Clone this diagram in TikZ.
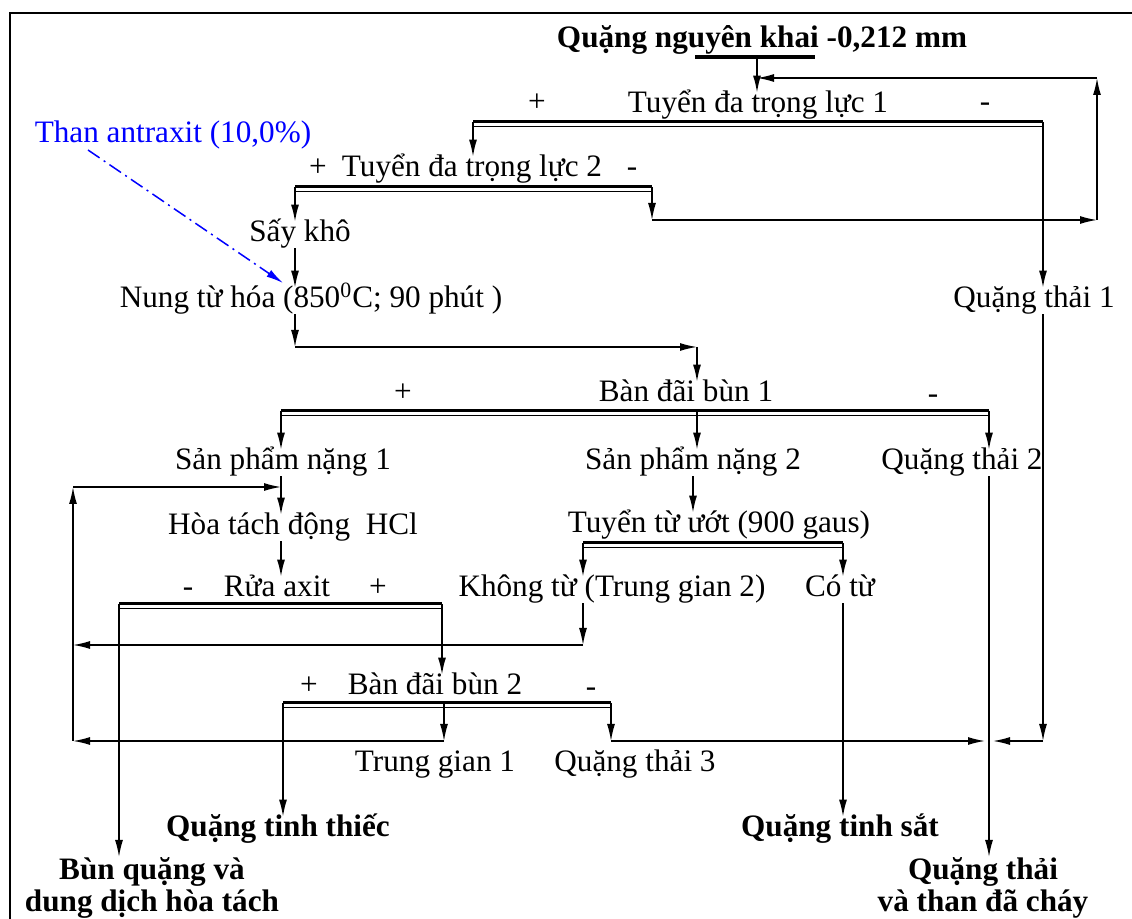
\documentclass[tikz,border=0pt]{standalone}
\usepackage{fontspec}
\setmainfont{Liberation Serif}
\usetikzlibrary{arrows.meta, positioning}

\tikzset{
    lbl/.style={inner sep=0pt, text height=10pt, text depth=3pt},
    bold/.style={font=\fontsize{15.6}{16}\selectfont\bfseries},
    res/.style={bold, inner sep=0pt, align=center, anchor=north},
    flow/.style={->, line width=0.75pt},
    barthick/.style={line width=1.5pt},
    barthin/.style={line width=0.5pt},
}

\newcommand{\splitbar}[2]{%
    \draw[barthick] (#1) -- (#2);
    \draw[barthin] ([yshift=-2.5pt]#1) -- ([yshift=-2.5pt]#2);
}

\begin{document}
\begin{tikzpicture}[x=0.5pt, y=-0.5pt, >={Latex[length=8.5pt, width=4pt]}, font=\fontsize{15.6}{16}\selectfont]

\useasboundingbox (0,0) rectangle (1132,919);
\draw[line width=1pt] (10,919) -- (10,13) -- (1132,13);

\begin{scope}[every node/.style={lbl}]
    \node[bold] (feed) at (762,41) {Quặng nguyên khai -0,212 mm};

    \node (td1) at (758,106) {Tuyển đa trọng lực 1};
    \node (td1p) at (537,105) {+};
    \node (td1m) at (985,105) {-};

    \node (td2) at (472,170) {Tuyển đa trọng lực 2};
    \node (td2p) at (318,170) {+};
    \node (td2m) at (632,170) {-};

    \node[text=blue] (than) at (173,136) {Than antraxit (10,0\%)};
    \node (say) at (300,235) {Sấy khô};
    \node (nung) at (311,301) {Nung từ hóa (850\textsuperscript{0}C; 90 phút )};
    \node (qt1) at (1034,301) {Quặng thải 1};

    \node (bd1) at (686,395) {Bàn đãi bùn 1};
    \node (bd1p) at (403,395) {+};
    \node (bd1m) at (933,397) {-};

    \node (sp1) at (283,463) {Sản phẩm nặng 1};
    \node (sp2) at (693,463) {Sản phẩm nặng 2};
    \node (qt2) at (962,463) {Quặng thải 2};

    \node (hoa) at (293,528) {Hòa tách động \ HCl};
    \node (ttu) at (719,526) {Tuyển từ ướt (900 gaus)};

    \node (rua) at (277,590) {Rửa axit};
    \node (ruam) at (188,590) {-};
    \node (ruap) at (378,590) {+};
    \node (khong) at (612,590) {Không từ (Trung gian 2)};
    \node (cotu) at (840,590) {Có từ};

    \node (bd2) at (435,688) {Bàn đãi bùn 2};
    \node (bd2p) at (309,688) {+};
    \node (bd2m) at (591,690) {-};

    \node (tg1) at (435,765) {Trung gian 1};
    \node (qt3) at (635,765) {Quặng thải 3};

    \node[bold] (thiec) at (278,830) {Quặng tinh thiếc};
    \node[bold] (sat) at (840,830) {Quặng tinh sắt};
\end{scope}

\node[res] (bun) at (152,857) {Bùn quặng và\\dung dịch hòa tách};
\node[res] (qtc) at (983,857) {Quặng thải\\và than đã cháy};

% split points
\coordinate (fbl) at (695,57);
\coordinate (fbr) at (815,57);
\coordinate (fb) at (757,57);
\coordinate (b1l) at (473,122);
\coordinate (b1r) at (1043,122);
\coordinate (b2l) at (295,187);
\coordinate (b2r) at (652,187);
\coordinate (b3l) at (281,411);
\coordinate (b3m) at (697,411);
\coordinate (b3r) at (989,411);
\coordinate (b4l) at (583,543);
\coordinate (b4r) at (843,543);
\coordinate (b5l) at (119,604);
\coordinate (b5r) at (442,604);
\coordinate (b6l) at (283,703);
\coordinate (b6m) at (444,703);
\coordinate (b6r) at (611,703);

% corners
\coordinate (r1) at (652,220);
\coordinate (r2) at (1097,220);
\coordinate (r3) at (1097,78);
\coordinate (n1) at (295,347);
\coordinate (n2) at (697,347);
\coordinate (q1) at (1043,741);
\coordinate (h1) at (73,741);
\coordinate (h2) at (73,487);
\coordinate (k1) at (583,645);
\coordinate (k2) at (73,645);
\coordinate (t1) at (444,741);
\coordinate (t3) at (611,741);
\coordinate (ts) at (88,150);
\coordinate (ct) at (283,283);

\draw[line width=2pt] (fbl) -- (fbr);
\splitbar{b1l}{b1r}
\splitbar{b2l}{b2r}
\splitbar{b3l}{b3r}
\splitbar{b4l}{b4r}
\splitbar{b5l}{b5r}
\splitbar{b6l}{b6r}

\draw[flow] (fb) -- (fb |- td1.north);
\draw[flow] (b1l) -- (b1l |- td2.north);
\draw[flow] (b1r) -- (b1r |- qt1.north);
\draw[flow] (b2l) -- (b2l |- say.north);
\draw[flow] (b2r) -- (r1);
\draw[flow] (r1) -- (r2);
\draw[flow] (r2) -- (r3);
\draw[flow] (r3) -- (fb |- r3);

\draw[flow] (b2l |- say.south) -- (b2l |- nung.north);
\draw[flow] (b2l |- nung.south) -- (n1);
\draw[flow] (n1) -- (n2);
\draw[flow] (n2) -- (n2 |- bd1.north);
\draw[flow, blue, dash pattern=on 7pt off 2.5pt on 1pt off 2.5pt] (ts) -- (ct);

\draw[flow] (b3l) -- (b3l |- sp1.north);
\draw[flow] (b3m) -- (b3m |- sp2.north);
\draw[flow] (b3r) -- (b3r |- qt2.north);

\draw[flow] (b1r |- qt1.south) -- (q1);
\draw[flow] (q1) -- ([xshift=2pt]b3r |- q1);
\draw[flow] (b3r |- qt2.south) -- (b3r |- qtc.north);

\draw[flow] (b3l |- sp1.south) -- (b3l |- hoa.north);
\draw[flow] (h1) -- (h2);
\draw[flow] (h2) -- (b3l |- h2);
\draw[flow] (b3l |- hoa.south) -- (b3l |- rua.north);
\draw[flow] (b5l) -- (b5l |- bun.north);
\draw[flow] (b5r) -- (b5r |- bd2.north);

\draw[flow] (sp2.south) -- (sp2.south |- ttu.north);
\draw[flow] (b4l) -- (b4l |- khong.north);
\draw[flow] (b4r) -- (b4r |- cotu.north);
\draw[flow] (b4l |- khong.south) -- (k1);
\draw[flow] (k1) -- (k2);
\draw[flow] (b4r |- cotu.south) -- (b4r |- sat.north);

\draw[flow] (b6l) -- (b6l |- thiec.north);
\draw[flow] (b6m) -- (t1);
\draw[flow] (t1) -- (h1);
\draw[flow] (b6r) -- (t3);
\draw[flow] (t3) -- ([xshift=-2pt]b3r |- t3);

\end{tikzpicture}
\end{document}
